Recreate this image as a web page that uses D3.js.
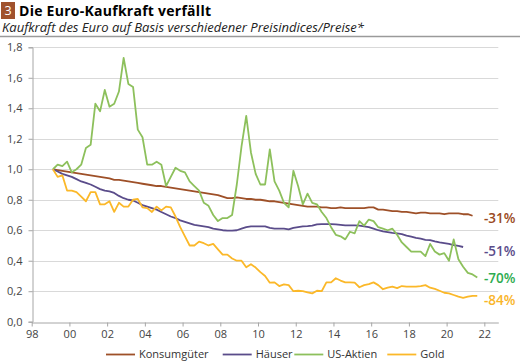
<!DOCTYPE html>
<html><head><meta charset="utf-8">
<script src="https://cdn.jsdelivr.net/npm/d3@7"></script>
<style>
body{margin:0;background:#fff;}
svg{display:block;font-family:"Open Sans",sans-serif;}
</style></head>
<body>
<svg id="chart" width="520" height="362"></svg>
<script>
// ---------- data (quarterly, first quarter plotted at 1999.125) ----------
const startYear = 1999.125;
const step = 0.25;
const seriesNames = ["Konsumgüter", "Häuser", "US-Aktien", "Gold"];
const endLabels = ["-31%", "-51%", "-70%", "-84%"];

const konsumgueter = [1.00,0.995,0.99,0.985,0.98,0.975,0.97,0.965,0.96,0.955,0.95,0.945,0.94,0.93,0.93,0.925,0.92,0.915,0.91,0.905,
0.90,0.895,0.89,0.89,0.885,0.88,0.875,0.87,0.865,0.86,0.855,0.85,0.845,0.84,0.835,0.83,0.82,0.81,0.81,0.815,
0.81,0.805,0.805,0.80,0.80,0.795,0.79,0.79,0.785,0.78,0.775,0.77,0.765,0.76,0.755,0.755,0.755,0.75,0.75,0.745,
0.745,0.75,0.745,0.745,0.745,0.745,0.745,0.75,0.75,0.735,0.735,0.73,0.725,0.725,0.72,0.72,0.715,0.71,0.715,0.715,
0.71,0.71,0.71,0.705,0.71,0.71,0.71,0.705,0.705,0.695];

const haeuser = [1.00,0.985,0.97,0.96,0.95,0.935,0.92,0.91,0.90,0.885,0.87,0.86,0.855,0.845,0.825,0.81,0.80,0.795,0.78,0.765,
0.755,0.745,0.735,0.72,0.705,0.69,0.68,0.665,0.655,0.645,0.635,0.63,0.625,0.62,0.61,0.605,0.60,0.597,0.597,0.60,
0.61,0.62,0.625,0.625,0.625,0.625,0.615,0.61,0.61,0.61,0.605,0.615,0.62,0.625,0.627,0.63,0.638,0.64,0.64,0.64,
0.638,0.635,0.632,0.632,0.632,0.63,0.625,0.62,0.61,0.60,0.593,0.588,0.583,0.58,0.575,0.565,0.558,0.55,0.545,0.537,
0.535,0.527,0.52,0.515,0.51,0.503,0.497,0.49];

const usAktien = [1.00,1.03,1.02,1.05,0.98,1.00,1.03,1.14,1.16,1.43,1.38,1.52,1.41,1.43,1.51,1.73,1.56,1.54,1.26,1.21,
1.03,1.03,1.05,1.03,0.89,0.95,1.01,0.99,0.98,0.92,0.89,0.86,0.78,0.76,0.70,0.66,0.68,0.68,0.70,0.90,
1.15,1.35,1.11,0.97,0.90,0.90,1.13,0.92,0.86,0.78,0.75,0.99,0.89,0.77,0.84,0.78,0.77,0.72,0.68,0.62,
0.57,0.56,0.54,0.59,0.58,0.66,0.63,0.67,0.66,0.62,0.61,0.60,0.61,0.57,0.52,0.49,0.46,0.46,0.46,0.43,
0.51,0.46,0.44,0.45,0.40,0.54,0.41,0.36,0.32,0.31,0.29];

const gold = [1.00,0.95,0.96,0.86,0.86,0.85,0.82,0.79,0.85,0.85,0.77,0.77,0.79,0.72,0.78,0.755,0.755,0.80,0.805,0.75,
0.745,0.72,0.755,0.73,0.755,0.75,0.69,0.62,0.56,0.50,0.50,0.525,0.515,0.50,0.51,0.475,0.44,0.44,0.415,0.40,
0.40,0.357,0.377,0.355,0.325,0.30,0.256,0.258,0.234,0.245,0.24,0.20,0.203,0.20,0.193,0.186,0.203,0.20,0.258,0.258,
0.285,0.27,0.258,0.258,0.256,0.226,0.24,0.247,0.258,0.24,0.213,0.223,0.23,0.22,0.234,0.23,0.23,0.23,0.234,0.24,
0.223,0.215,0.203,0.19,0.186,0.175,0.164,0.157,0.164,0.17,0.169];

const xTicks = [1998,2000,2002,2004,2006,2008,2010,2012,2014,2016,2018,2020,2022];
const yTicks = [0,0.2,0.4,0.6,0.8,1.0,1.2,1.4,1.6,1.8];

// ---------- styles ----------
const lineColors = ["#9e5028","#5a4c8a","#8dc05c","#fbb829"];
const labelColors = ["#9a4a22","#5a4c8a","#2eac50","#f9b52a"];

const svg = d3.select("#chart");

// title
svg.append("rect").attr("x",1).attr("y",2).attr("width",14).attr("height",17).attr("fill","#a0522d");
svg.append("text").attr("x",8).attr("y",15).attr("text-anchor","middle").attr("fill","#fff")
  .attr("font-size",12.5).text("3");
svg.append("text").attr("x",19).attr("y",15.5).attr("font-weight","bold").attr("font-size",14)
  .attr("textLength",192).attr("lengthAdjust","spacing")
  .attr("fill","#000").text("Die Euro-Kaufkraft verfällt");
svg.append("text").attr("x",2).attr("y",32).attr("font-style","italic").attr("font-size",12)
  .attr("textLength",362).attr("lengthAdjust","spacingAndGlyphs")
  .attr("fill","#222").text("Kaufkraft des Euro auf Basis verschiedener Preisindices/Preise*");
svg.append("line").attr("x1",0).attr("x2",520).attr("y1",36.5).attr("y2",36.5)
  .attr("stroke","#9a9a9a").attr("stroke-width",1.5);

// scales
const x = d3.scaleLinear().domain([1998, 2022.74]).range([31.7, 498.3]);
const y = d3.scaleLinear().domain([0, 1.8]).range([321.7, 47.3]);

// gridlines
svg.append("g").selectAll("line").data(yTicks.filter(d=>d>0)).join("line")
  .attr("x1",x(1998)).attr("x2",x(2022.74))
  .attr("y1",d=>Math.round(y(d))+0.5).attr("y2",d=>Math.round(y(d))+0.5)
  .attr("stroke","#d9d9d9").attr("stroke-width",1);

// y axis
const yAxis = svg.append("g").attr("transform",`translate(${Math.round(x(1998))+0.5},0)`)
  .call(d3.axisLeft(y).tickValues(yTicks).tickSize(4).tickPadding(6)
    .tickFormat(d=>d3.format(".1f")(d).replace(".",",")));
yAxis.select(".domain").attr("stroke","#a6a6a6");
yAxis.selectAll(".tick line").attr("stroke","#a6a6a6");
yAxis.selectAll(".tick text").attr("font-size",11).attr("fill","#444").attr("font-family","Open Sans, sans-serif");

// x axis
const xAxis = svg.append("g").attr("transform",`translate(0,${Math.round(y(0))+0.5})`)
  .call(d3.axisBottom(x).tickValues(xTicks).tickSize(4).tickPadding(4)
    .tickFormat(d=>String(d%100).padStart(2,"0")).tickSizeOuter(0));
xAxis.select(".domain").attr("stroke","#a6a6a6");
xAxis.selectAll(".tick line").attr("stroke","#a6a6a6");
xAxis.selectAll(".tick text").attr("font-size",11).attr("fill","#444").attr("font-family","Open Sans, sans-serif");

// lines
const allSeries = [konsumgueter, haeuser, usAktien, gold];
const line = d3.line().x((d,i)=>x(startYear + i*step)).y(d=>y(d));
[0,1,2,3].forEach(k=>{
  svg.append("path").datum(allSeries[k]).attr("d",line)
    .attr("fill","none").attr("stroke",lineColors[k]).attr("stroke-width",1.8)
    .attr("stroke-linejoin","round");
});

// end labels
const labelY = [218.5, 251.5, 278.5, 300];
endLabels.forEach((t,k)=>{
  svg.append("text").attr("x",484).attr("y",labelY[k]).attr("dy","0.35em")
    .attr("font-size",13.5).attr("font-weight","600").attr("fill",labelColors[k]).text(t);
});

// legend
const legendX = [106, 222.7, 294.3, 387.3];
const legend = svg.append("g");
seriesNames.forEach((n,k)=>{
  legend.append("line").attr("x1",legendX[k]).attr("x2",legendX[k]+29).attr("y1",354.5).attr("y2",354.5)
    .attr("stroke",lineColors[k]).attr("stroke-width",1.8);
  legend.append("text").attr("x",legendX[k]+33).attr("y",354.5).attr("dy","0.35em")
    .attr("font-size",11).attr("fill","#333").text(n);
});
</script>
</body></html>
